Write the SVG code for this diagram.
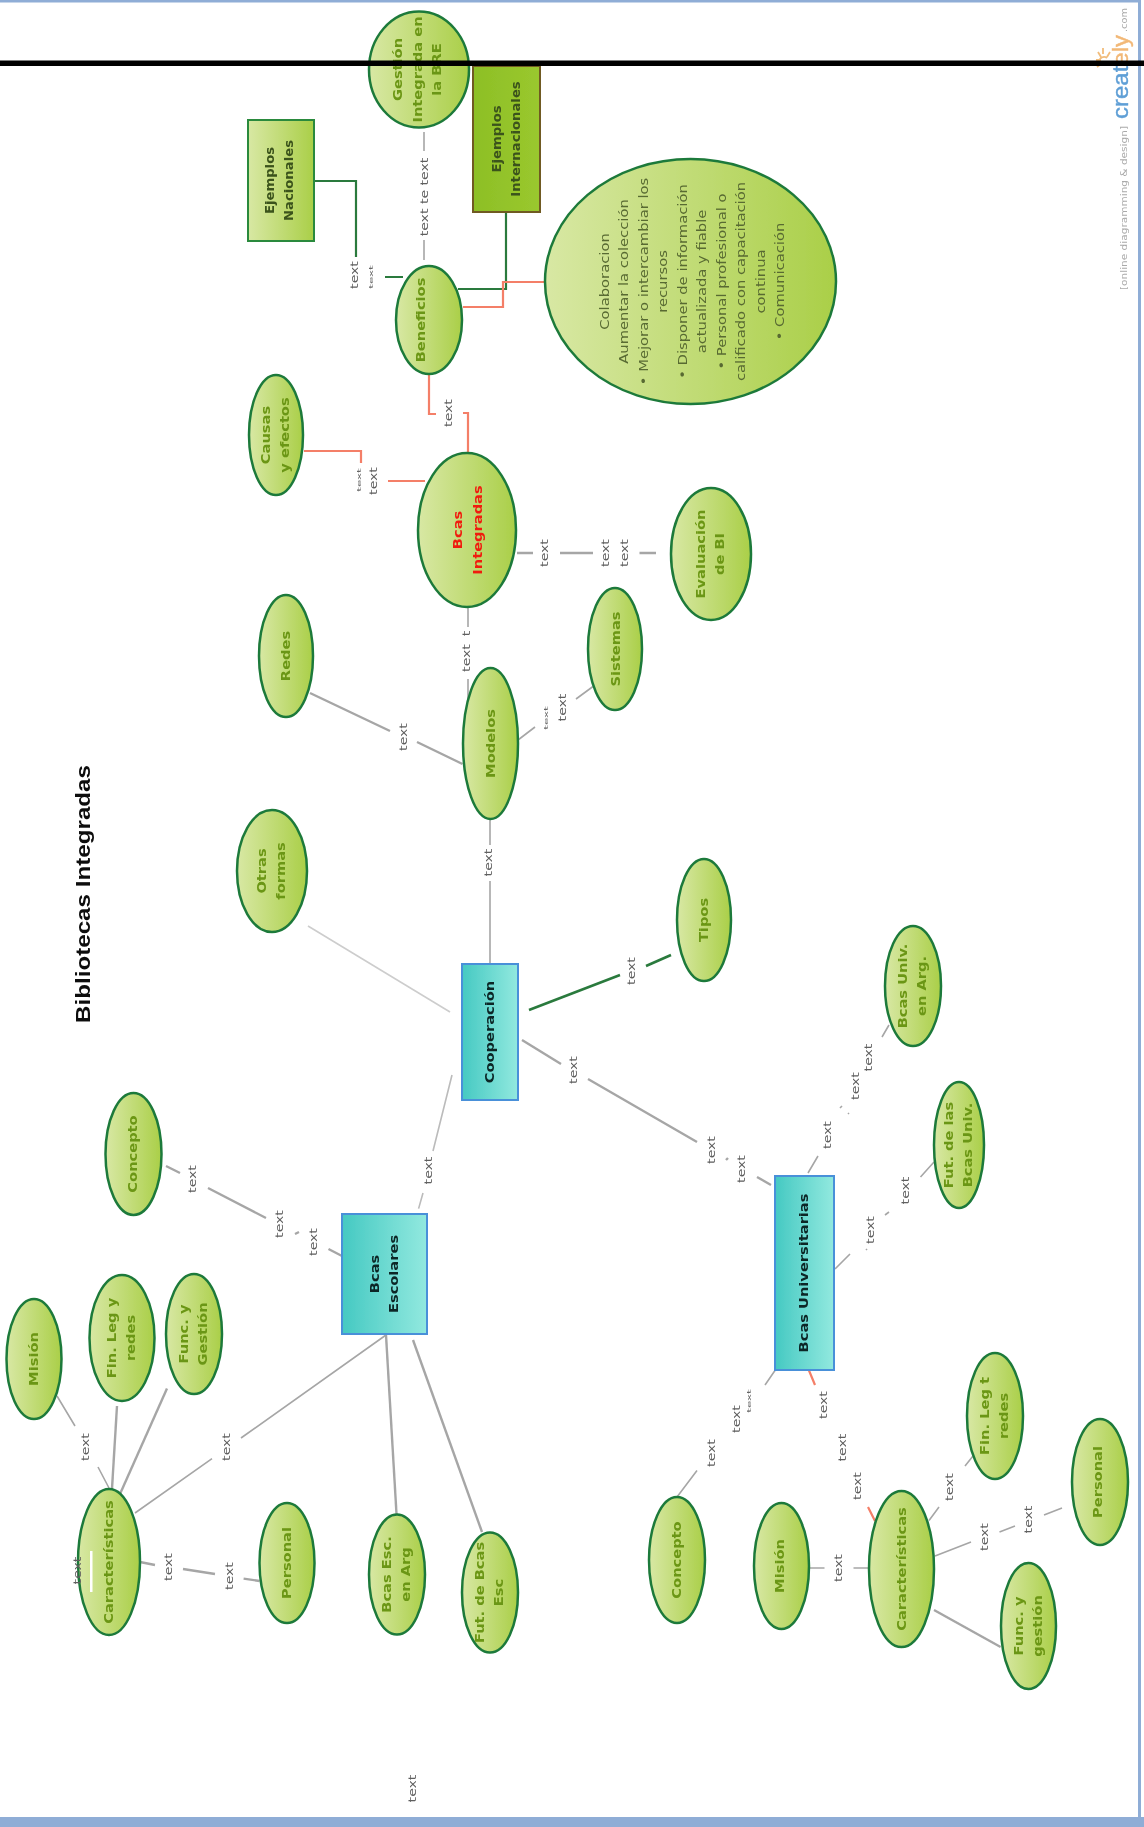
<svg xmlns="http://www.w3.org/2000/svg" width="1144" height="1827" viewBox="0 0 1144 1827">
<style>
text{font-family:"DejaVu Sans",Verdana,sans-serif;text-anchor:middle}
.n{font-size:12px;font-weight:bold;fill:#6b9612}
.k{font-size:12px;font-weight:bold;fill:#0a2525}
.d{font-size:12px;font-weight:bold;fill:#3a521a}
.b{font-size:12px;fill:#586a32}
.t{font-size:11px;fill:#5e5e5e}
.s{font-size:6px;fill:#666}
.e{fill:url(#gn);stroke:#1f7a3a;stroke-width:2.5}
.rc{fill:url(#gt);stroke:#4a90d9;stroke-width:2}
path{fill:none}
.c{stroke:#a6a6a6;stroke-width:1.6}
.w{stroke:#a6a6a6;stroke-width:2.4}
.l{stroke:#cdcdcd;stroke-width:1.6}
.g{stroke:#2a7a3e;stroke-width:2.2}
.r{stroke:#f47f68;stroke-width:2.2}
</style>
<defs>
<linearGradient id="gn"><stop offset="0" stop-color="#d8e8a4"/><stop offset="1" stop-color="#aacf48"/></linearGradient>
<linearGradient id="gt"><stop offset="0" stop-color="#45c9c2"/><stop offset="1" stop-color="#92e9df"/></linearGradient>
<linearGradient id="gi"><stop offset="0" stop-color="#8dbf26"/><stop offset="1" stop-color="#9ac82e"/></linearGradient>
<filter id="soft" x="-2%" y="-2%" width="104%" height="104%"><feGaussianBlur stdDeviation="0.7"/></filter>
</defs>
<rect width="1144" height="1827" fill="#fff"/>
<g filter="url(#soft)">
<g id="frame">
<rect x="0" y="0" width="1141" height="2.5" fill="#8fadd6"/>
<rect x="1138" y="0" width="3" height="1820" fill="#8fadd6"/>
<rect x="0" y="1817" width="1144" height="10" fill="#8fadd6"/>
</g>
<g id="logo">
<path d="M1098 52l3 5M1110 52l-3 5M1096 60h5M1097 67l4-3M1103 48v6M1107 58a5 5 0 0 0-8 4" style="stroke:#f2bd7c;stroke-width:1.8"/>
<text transform="translate(1128 119) rotate(-90)" textLength="84" lengthAdjust="spacingAndGlyphs" style="text-anchor:start;font-family:'Liberation Sans',sans-serif;font-size:22px;fill:#5f9fd6;stroke:#5f9fd6;stroke-width:.4">creat<tspan fill="#f2b877" stroke="#f2b877">ely</tspan></text>
<text transform="translate(1127 32) rotate(-90)" textLength="24" lengthAdjust="spacingAndGlyphs" style="text-anchor:start;font-size:8px;fill:#aaa">.com</text>
<text transform="translate(1127 290) rotate(-90)" textLength="164" lengthAdjust="spacingAndGlyphs" style="text-anchor:start;font-size:9px;fill:#aaa">[online diagramming &amp; design]</text>
</g>
<text id="title" transform="translate(90 894) rotate(-90)" textLength="258" lengthAdjust="spacingAndGlyphs" style="font-family:'Liberation Sans',sans-serif;font-size:21px;font-weight:bold;fill:#111">Bibliotecas Integradas</text>
<g id="connectors">
<path class="g" d="M314 181H356V257M385 277H403"/>
<path class="c" d="M424 132V151M424 240V260"/>
<path class="g" d="M506 212V289H458"/>
<path class="r" d="M463 307H503V282H545"/>
<path class="r" d="M429 374V414H436M463 413H468V453"/>
<path class="r" d="M304 451H361V463M388 481H425"/>
<path class="w" d="M517 553H533M560 553H593M639.500 553H656"/>
<path class="c" d="M468 608V627M468 679V700"/>
<path class="w" d="M310 693L390 731M417 742L462.500 764"/>
<path class="c" d="M518 740L535 727M576 699L593 686.500"/>
<path class="c" d="M490 819V845M490 881V964"/>
<path class="l" d="M308 926L450 1012"/>
<path class="g" style="stroke-width:2.600" d="M529 1010L620 975M646 966L671 955"/>
<path class="w" d="M522 1040L561 1064M588 1079L697 1142M726 1160L728 1158M757 1177L771 1185"/>
<path class="c" d="M808 1173L818 1156M840 1108L842 1106M848 1114L849 1113M882 1037L889 1025"/>
<path class="c" d="M835 1269L850 1254M866 1250L867 1249M885 1215L889 1212M920.500 1177L934 1162"/>
<path class="c" d="M775 1370.500L765 1385M697 1470.500L677 1497"/>
<path class="r" d="M809 1370.500L815 1385M868 1507L875 1521"/>
<path class="c" d="M809 1568H824.500M853.500 1568H869"/>
<path class="c" d="M929 1520.500L939 1507M965 1466L973 1456"/>
<path class="c" d="M935 1556L971 1542M999.500 1532L1015 1526M1044 1515L1062 1508"/>
<path class="w" d="M934 1610L1000.600 1647"/>
<path class="l" style="stroke:#bbb" d="M452 1075L433 1151M423 1193L418.600 1208.600"/>
<path class="w" d="M166 1166L180 1173M208 1188L266 1218M295 1234L299 1232M328.500 1249L342 1256"/>
<path class="c" d="M386 1335L241 1438M212 1458.600L135 1513"/>
<path class="w" d="M386 1335L396.500 1514"/>
<path class="w" d="M413 1340L482 1532"/>
<path class="c" d="M57 1396L75 1426M98 1467L109 1488"/>
<path class="w" d="M117 1406L112 1488.600"/>
<path class="w" d="M167 1388.600L120 1494"/>
<path class="w" d="M140 1562L155 1565M183 1569L215 1574M243.600 1578.600L259.600 1581"/>
</g>
<g id="connector-labels">
<text class="t" dy="4" transform="translate(354 275) rotate(-90) scale(1.28 1)">text</text>
<text class="s" dy="2" transform="translate(371 277) rotate(-90) scale(2 1)">text</text>
<text class="t" dy="4" transform="translate(424 197) rotate(-90) scale(1.28 1)">text te text</text>
<text class="t" dy="4" transform="translate(447.500 413) rotate(-90) scale(1.28 1)">text</text>
<text class="s" dy="2" transform="translate(359 480) rotate(-90) scale(2 1)">text</text>
<text class="t" dy="4" transform="translate(373 481) rotate(-90) scale(1.28 1)">text</text>
<text class="t" dy="4" transform="translate(544 553) rotate(-90) scale(1.28 1)">text</text>
<text class="t" dy="4" transform="translate(605 553) rotate(-90) scale(1.28 1)">text</text>
<text class="t" dy="4" transform="translate(624 553) rotate(-90) scale(1.28 1)">text</text>
<text class="t" dy="4" transform="translate(466 633.500) rotate(-90) scale(1.28 1)">t</text>
<text class="t" dy="4" transform="translate(466 658) rotate(-90) scale(1.28 1)">text</text>
<text class="t" dy="4" transform="translate(403 737) rotate(-90) scale(1.28 1)">text</text>
<text class="s" dy="2" transform="translate(546 718) rotate(-90) scale(2 1)">text</text>
<text class="t" dy="4" transform="translate(562 707.500) rotate(-90) scale(1.28 1)">text</text>
<text class="t" dy="4" transform="translate(488 862.500) rotate(-90) scale(1.28 1)">text</text>
<text class="t" dy="4" transform="translate(631 971) rotate(-90) scale(1.28 1)">text</text>
<text class="t" dy="4" transform="translate(573 1070) rotate(-90) scale(1.28 1)">text</text>
<text class="t" dy="4" transform="translate(711 1150) rotate(-90) scale(1.28 1)">text</text>
<text class="t" dy="4" transform="translate(741 1169) rotate(-90) scale(1.28 1)">text</text>
<text class="t" dy="4" transform="translate(827 1135) rotate(-90) scale(1.28 1)">text</text>
<text class="t" dy="4" transform="translate(854.500 1086) rotate(-90) scale(1.28 1)">text</text>
<text class="t" dy="4" transform="translate(868 1057.500) rotate(-90) scale(1.28 1)">text</text>
<text class="t" dy="4" transform="translate(870 1230) rotate(-90) scale(1.28 1)">text</text>
<text class="t" dy="4" transform="translate(905 1190.500) rotate(-90) scale(1.28 1)">text</text>
<text class="s" dy="2" transform="translate(749 1401) rotate(-90) scale(2 1)">text</text>
<text class="t" dy="4" transform="translate(736 1419) rotate(-90) scale(1.28 1)">text</text>
<text class="t" dy="4" transform="translate(711 1453) rotate(-90) scale(1.28 1)">text</text>
<text class="t" dy="4" transform="translate(822.500 1405) rotate(-90) scale(1.28 1)">text</text>
<text class="t" dy="4" transform="translate(842 1447.600) rotate(-90) scale(1.28 1)">text</text>
<text class="t" dy="4" transform="translate(856.500 1486) rotate(-90) scale(1.28 1)">text</text>
<text class="t" dy="4" transform="translate(838 1568) rotate(-90) scale(1.28 1)">text</text>
<text class="t" dy="4" transform="translate(948.500 1487) rotate(-90) scale(1.28 1)">text</text>
<text class="t" dy="4" transform="translate(984 1537) rotate(-90) scale(1.28 1)">text</text>
<text class="t" dy="4" transform="translate(1028 1519.500) rotate(-90) scale(1.28 1)">text</text>
<text class="t" dy="4" transform="translate(427.500 1170.500) rotate(-90) scale(1.28 1)">text</text>
<text class="t" dy="4" transform="translate(192 1179) rotate(-90) scale(1.28 1)">text</text>
<text class="t" dy="4" transform="translate(279 1224) rotate(-90) scale(1.28 1)">text</text>
<text class="t" dy="4" transform="translate(313 1242) rotate(-90) scale(1.28 1)">text</text>
<text class="t" dy="4" transform="translate(226 1447) rotate(-90) scale(1.28 1)">text</text>
<text class="t" dy="4" transform="translate(85 1447) rotate(-90) scale(1.28 1)">text</text>
<text class="t" dy="4" transform="translate(168 1567) rotate(-90) scale(1.28 1)">text</text>
<text class="t" dy="4" transform="translate(228.600 1576) rotate(-90) scale(1.28 1)">text</text>
<text class="t" dy="4" transform="translate(412 1788.500) rotate(-90) scale(1.28 1)">text</text>
</g>
<g id="n-gestion"><ellipse class="e" cx="419" cy="69.500" rx="50" ry="58"/><text class="n" transform="translate(419 69.500) rotate(-90) scale(1.22 1)"><tspan x="0" y="-17">Gestión</tspan><tspan x="0" y="3">Integrada en</tspan><tspan x="0" y="22.500">la BRE</tspan></text></g>
<g id="n-internacionales"><rect x="473" y="66" width="67" height="146" fill="url(#gi)" stroke="#6f5a22" stroke-width="2"/><text class="d" transform="translate(506.500 139) rotate(-90) scale(1.1 1)"><tspan x="0" y="-6">Ejemplos</tspan><tspan x="0" y="13.500">Internacionales</tspan></text></g>
<g id="n-nacionales"><rect x="248" y="120" width="66" height="121" fill="url(#gn)" stroke="#2a8a3e" stroke-width="2"/><text class="d" transform="translate(281 180.500) rotate(-90) scale(1.1 1)"><tspan x="0" y="-7">Ejemplos</tspan><tspan x="0" y="12.500">Nacionales</tspan></text></g>
<g id="n-beneficios"><ellipse class="e" cx="429" cy="320" rx="33" ry="54"/><text class="n" dy="4" transform="translate(421 320) rotate(-90) scale(1.22 1)">Beneficios</text></g>
<g id="n-colaboracion"><ellipse class="e" cx="690.500" cy="281.500" rx="145.500" ry="122.500"/><text class="b" transform="translate(605 281.500) rotate(-90) scale(1.23 1)"><tspan x="0" y="4">Colaboracion</tspan><tspan x="0" y="23.500">Aumentar la colección</tspan><tspan x="0" y="43">• Mejorar o intercambiar los</tspan><tspan x="0" y="62.500">recursos</tspan><tspan x="0" y="82">• Disponer de información</tspan><tspan x="0" y="101.500">actualizada y fiable</tspan><tspan x="0" y="121">• Personal profesional o</tspan><tspan x="0" y="140.500">calificado con capacitación</tspan><tspan x="0" y="160">continua</tspan><tspan x="0" y="179.500">• Comunicación</tspan></text></g>
<g id="n-causas"><ellipse class="e" cx="276" cy="435" rx="27" ry="60"/><text class="n" transform="translate(276 435) rotate(-90) scale(1.22 1)"><tspan x="0" y="-6">Causas</tspan><tspan x="0" y="13.500">y efectos</tspan></text></g>
<g id="n-integradas"><ellipse class="e" cx="467" cy="530" rx="49" ry="77"/><text class="n" style="fill:#f01c10" transform="translate(467 530) rotate(-90) scale(1.22 1)"><tspan x="0" y="-5">Bcas</tspan><tspan x="0" y="15">Integradas</tspan></text></g>
<g id="n-evaluacion"><ellipse class="e" cx="711" cy="554" rx="40" ry="66"/><text class="n" transform="translate(711 554) rotate(-90) scale(1.22 1)"><tspan x="0" y="-6">Evaluación</tspan><tspan x="0" y="13.500">de BI</tspan></text></g>
<g id="n-redes"><ellipse class="e" cx="286" cy="656" rx="27" ry="61"/><text class="n" dy="4" transform="translate(286 656) rotate(-90) scale(1.22 1)">Redes</text></g>
<g id="n-sistemas"><ellipse class="e" cx="615" cy="649" rx="27" ry="61"/><text class="n" dy="4" transform="translate(616 649) rotate(-90) scale(1.22 1)">Sistemas</text></g>
<g id="n-modelos"><ellipse class="e" cx="490.500" cy="743.500" rx="27.500" ry="75.500"/><text class="n" dy="4" transform="translate(490.500 743.500) rotate(-90) scale(1.22 1)">Modelos</text></g>
<g id="n-otras"><ellipse class="e" cx="272" cy="871" rx="35" ry="61"/><text class="n" transform="translate(272 871) rotate(-90) scale(1.22 1)"><tspan x="0" y="-6">Otras</tspan><tspan x="0" y="13.500">formas</tspan></text></g>
<g id="n-tipos"><ellipse class="e" cx="704" cy="920" rx="27" ry="61"/><text class="n" dy="4" transform="translate(704 920) rotate(-90) scale(1.22 1)">Tipos</text></g>
<g id="n-cooperacion"><rect class="rc" x="462" y="964" width="56" height="136"/><text class="k" dy="4" transform="translate(490 1032) rotate(-90) scale(1.22 1)">Cooperación</text></g>
<g id="n-univ-arg"><ellipse class="e" cx="913" cy="986" rx="28" ry="60"/><text class="n" transform="translate(913 986) rotate(-90) scale(1.22 1)"><tspan x="0" y="-6">Bcas Univ.</tspan><tspan x="0" y="13.500">en Arg.</tspan></text></g>
<g id="n-fut-univ"><ellipse class="e" cx="959" cy="1145" rx="25" ry="63"/><text class="n" transform="translate(959 1145) rotate(-90) scale(1.22 1)"><tspan x="0" y="-6">Fut. de las</tspan><tspan x="0" y="13.500">Bcas Univ.</tspan></text></g>
<g id="n-universitarias"><rect class="rc" x="775" y="1176" width="59" height="194"/><text class="k" dy="4" transform="translate(804 1273) rotate(-90) scale(1.22 1)">Bcas Universitarias</text></g>
<g id="n-fin-u"><ellipse class="e" cx="995" cy="1416" rx="28" ry="63"/><text class="n" transform="translate(995 1416) rotate(-90) scale(1.22 1)"><tspan x="0" y="-6">Fin. Leg t</tspan><tspan x="0" y="13.500">redes</tspan></text></g>
<g id="n-personal-u"><ellipse class="e" cx="1100" cy="1482" rx="28" ry="63"/><text class="n" dy="4" transform="translate(1098 1482) rotate(-90) scale(1.22 1)">Personal</text></g>
<g id="n-caract-u"><ellipse class="e" cx="901.500" cy="1569" rx="32.500" ry="78"/><text class="n" dy="4" transform="translate(901.500 1569) rotate(-90) scale(1.22 1)">Características</text></g>
<g id="n-func-u"><ellipse class="e" cx="1028.500" cy="1626" rx="27.500" ry="63"/><text class="n" transform="translate(1028.500 1626) rotate(-90) scale(1.22 1)"><tspan x="0" y="-6">Func. y</tspan><tspan x="0" y="13.500">gestión</tspan></text></g>
<g id="n-mision-u"><ellipse class="e" cx="781.500" cy="1566" rx="27.500" ry="63"/><text class="n" dy="4" transform="translate(779.500 1566) rotate(-90) scale(1.22 1)">Misión</text></g>
<g id="n-concepto-u"><ellipse class="e" cx="677" cy="1560" rx="28" ry="63"/><text class="n" dy="4" transform="translate(677 1560) rotate(-90) scale(1.22 1)">Concepto</text></g>
<g id="n-concepto-e"><ellipse class="e" cx="133.500" cy="1154" rx="28" ry="61"/><text class="n" dy="4" transform="translate(132.500 1154) rotate(-90) scale(1.22 1)">Concepto</text></g>
<g id="n-escolares"><rect class="rc" x="342" y="1214" width="85" height="120"/><text class="k" transform="translate(384.500 1274) rotate(-90) scale(1.22 1)"><tspan x="0" y="-6">Bcas</tspan><tspan x="0" y="13.500">Escolares</tspan></text></g>
<g id="n-mision-e"><ellipse class="e" cx="34" cy="1359" rx="27.500" ry="60"/><text class="n" dy="4" transform="translate(34 1359) rotate(-90) scale(1.22 1)">Misión</text></g>
<g id="n-fin-e"><ellipse class="e" cx="122" cy="1338" rx="32.500" ry="63"/><text class="n" transform="translate(122 1338) rotate(-90) scale(1.22 1)"><tspan x="0" y="-6">Fin. Leg y</tspan><tspan x="0" y="13.500">redes</tspan></text></g>
<g id="n-func-e"><ellipse class="e" cx="194" cy="1334" rx="28" ry="60"/><text class="n" transform="translate(194 1334) rotate(-90) scale(1.22 1)"><tspan x="0" y="-6">Func. y</tspan><tspan x="0" y="13.500">Gestión</tspan></text></g>
<g id="n-caract-e"><ellipse class="e" cx="109" cy="1562" rx="31" ry="73"/><text class="n" dy="4" transform="translate(109 1562) rotate(-90) scale(1.22 1)">Características</text><rect x="90" y="1551" width="2.500" height="41" fill="#fff"/><text class="t" dy="4" transform="translate(77 1570.500) rotate(-90) scale(1.28 1)">text</text></g>
<g id="n-personal-e"><ellipse class="e" cx="287" cy="1563" rx="27.500" ry="60"/><text class="n" dy="4" transform="translate(287 1563) rotate(-90) scale(1.22 1)">Personal</text></g>
<g id="n-esc-arg"><ellipse class="e" cx="397" cy="1574.500" rx="28" ry="60"/><text class="n" transform="translate(397 1574.500) rotate(-90) scale(1.22 1)"><tspan x="0" y="-6">Bcas Esc.</tspan><tspan x="0" y="13.500">en Arg</tspan></text></g>
<g id="n-fut-e"><ellipse class="e" cx="490" cy="1592.500" rx="28" ry="60"/><text class="n" transform="translate(490 1592.500) rotate(-90) scale(1.22 1)"><tspan x="0" y="-6">Fut. de Bcas</tspan><tspan x="0" y="13.500">Esc</tspan></text></g>
</g>
<rect id="black-line" x="0" y="60.500" width="1144" height="5.500" fill="#000"/>
</svg>
